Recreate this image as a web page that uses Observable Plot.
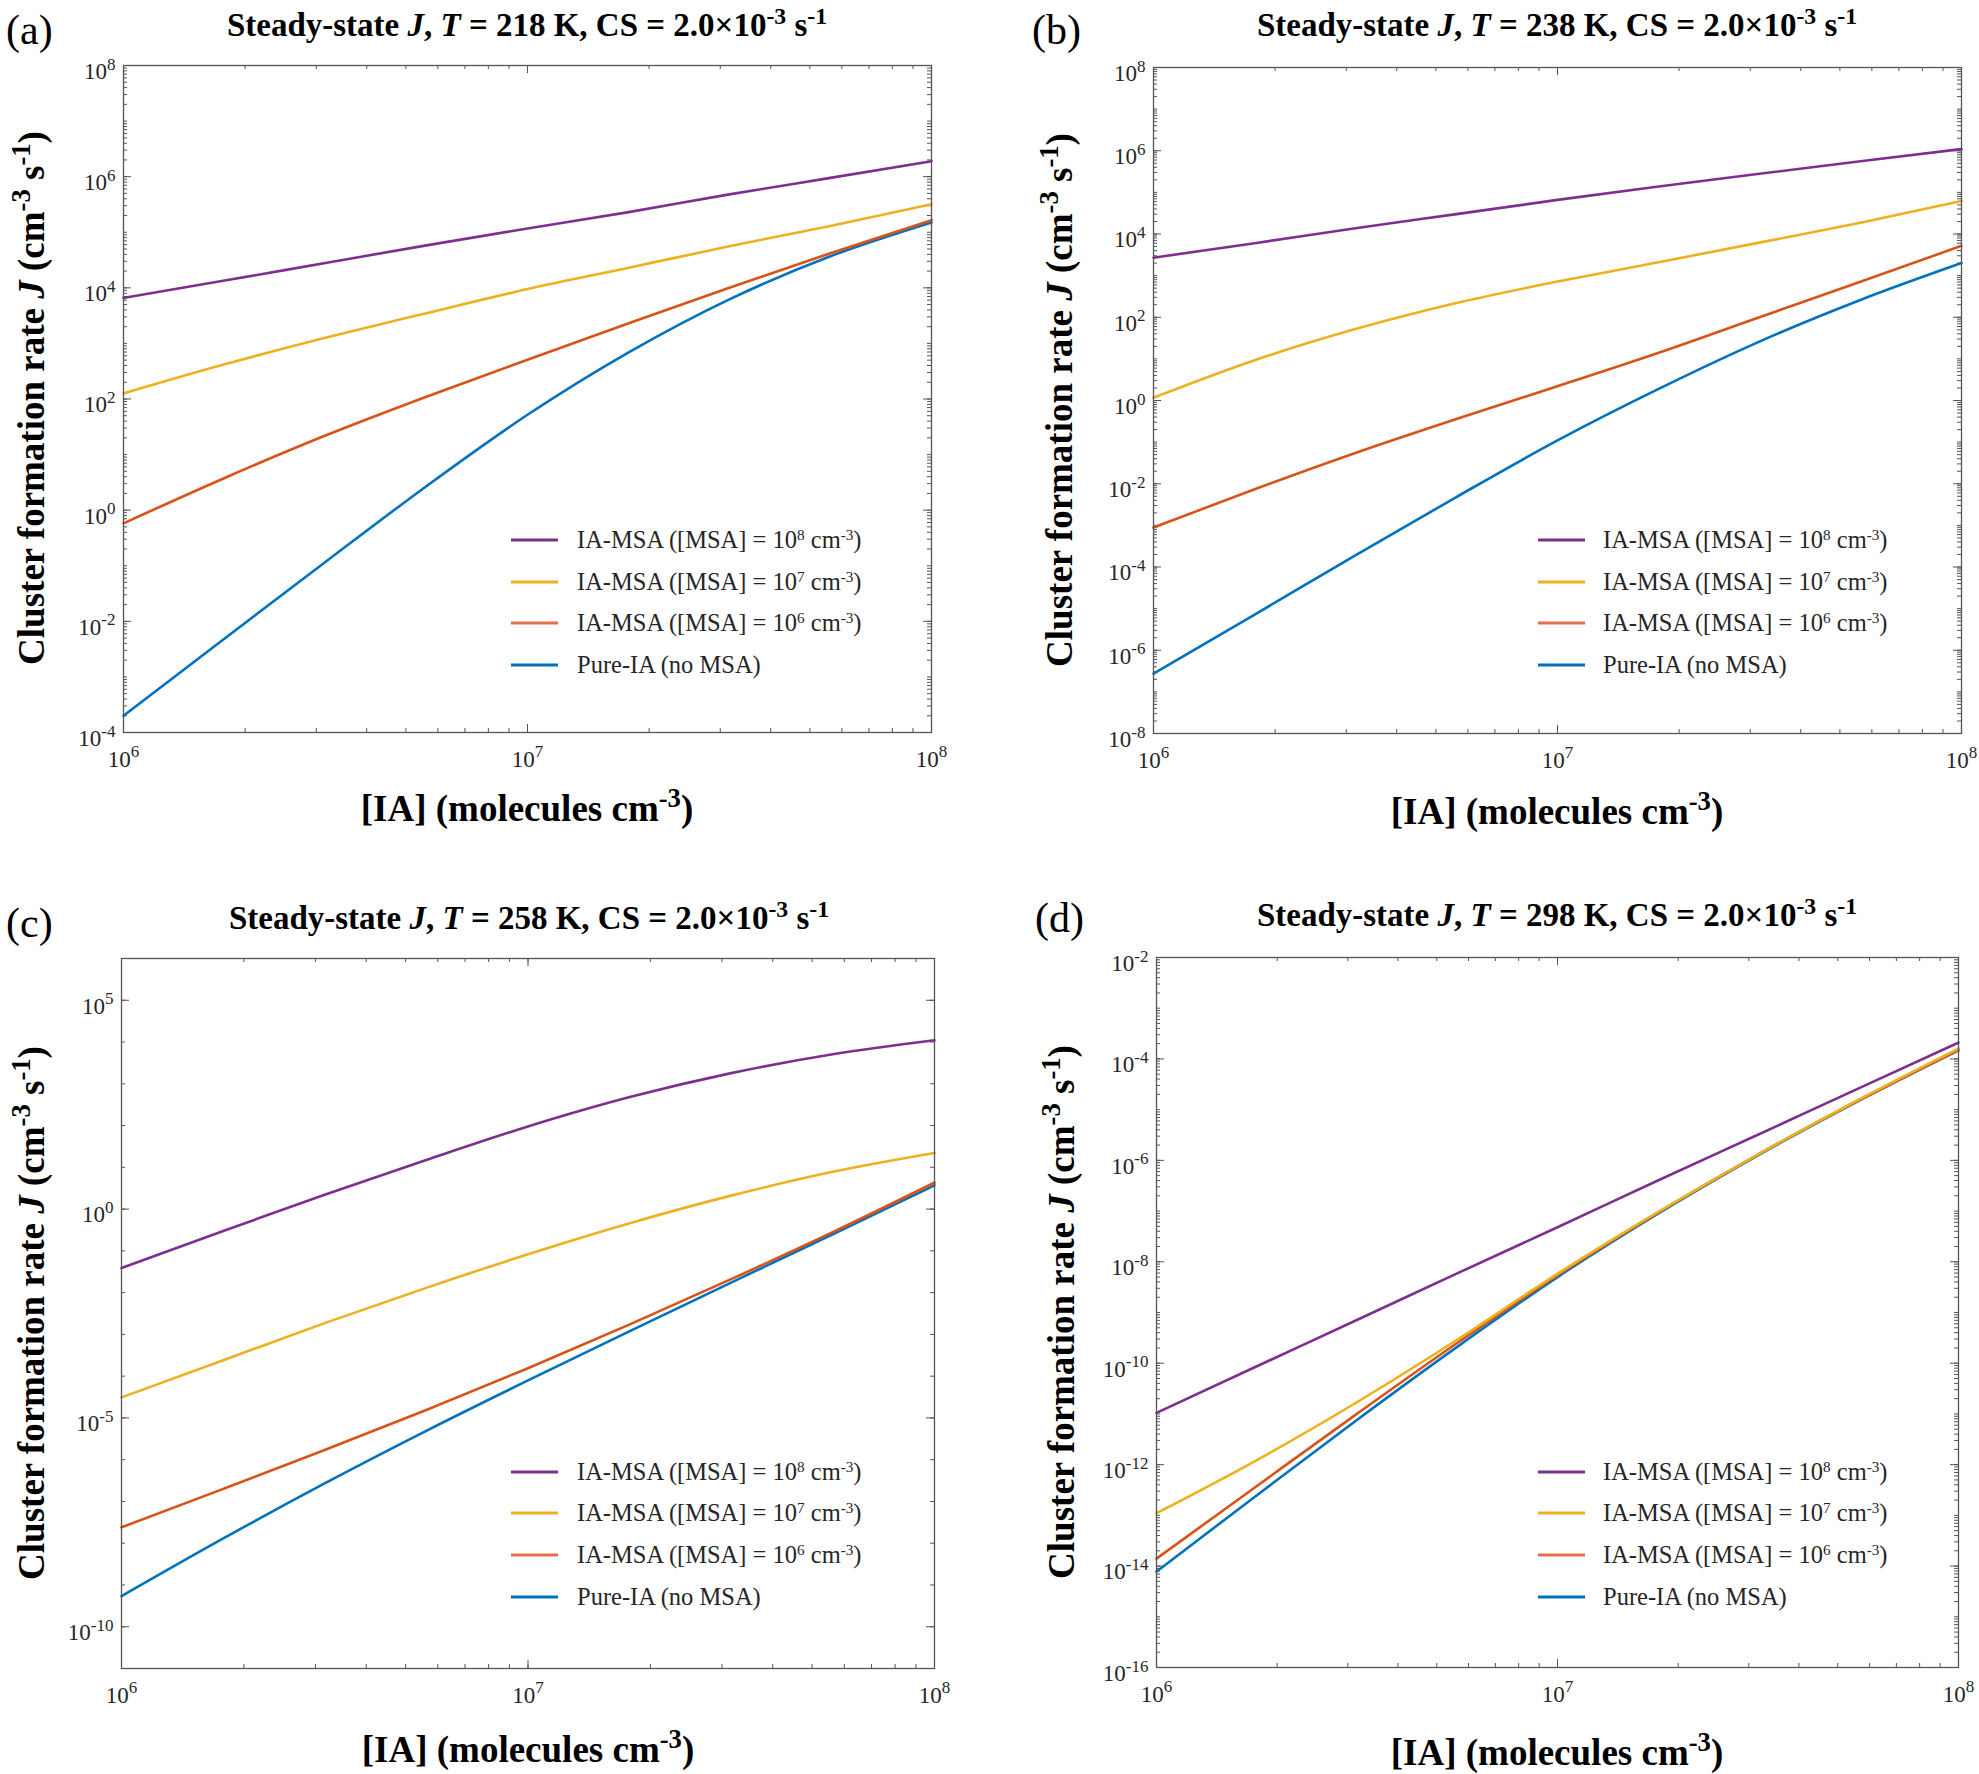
<!DOCTYPE html>
<html>
<head>
<meta charset="utf-8">
<script src="https://cdn.jsdelivr.net/npm/d3@7"></script>
<script src="https://cdn.jsdelivr.net/npm/@observablehq/plot@0.6"></script>
<style>
  body { margin: 0; background: #fff; }
  #fig { position: relative; width: 1979px; height: 1774px; font-family: "Liberation Serif", "Times New Roman", serif; color: #000; }
  .abs { position: absolute; white-space: nowrap; line-height: 1; }
  .title { font-weight: bold; font-size: 33px; transform: translate(-50%, -50%); }
  .tag { font-size: 42px; transform: translate(0, -50%); }
  .ylab { font-weight: bold; font-size: 37px; transform: translate(-50%, -50%) rotate(-90deg); }
  .xlab { font-weight: bold; font-size: 37px; transform: translate(-50%, -50%); }
  .leg { font-size: 24.5px; transform: translate(0, -50%); color: #262626; }
  sup { font-size: 0.72em; vertical-align: 0.5em; line-height: 0; }
  .leg sup { font-size: 0.62em; }
  .plotbox { position: absolute; }
</style>
</head>
<body>
<div id="fig"></div>
<script>
// IA concentration (molecules cm^-3)
const ia = [1e6, 1.78e6, 3.16e6, 5.62e6, 1e7, 1.78e7, 3.16e7, 5.62e7, 1e8];

const seriesKeys = ["msa8", "msa7", "msa6", "pure"];
const seriesColors = ["#7E2F8E", "#EDB120", "#D95319", "#0072BD"];
const legendColors = ["#7E2F8E", "#EDB120", "#E5714A", "#0072BD"];
const seriesLegend = [
  "IA-MSA ([MSA] = 10<sup>8</sup> cm<sup>-3</sup>)",
  "IA-MSA ([MSA] = 10<sup>7</sup> cm<sup>-3</sup>)",
  "IA-MSA ([MSA] = 10<sup>6</sup> cm<sup>-3</sup>)",
  "Pure-IA (no MSA)"
];

// (a) T = 218 K
const a_msa8 = [6.6e3, 1.35e4, 2.8e4, 5.8e4, 1.17e5, 2.3e5, 4.8e5, 9.5e5, 1.9e6];
const a_msa7 = [1.26e2, 4.2e2, 1.26e3, 3.5e3, 9.5e3, 2.3e4, 5.6e4, 1.3e5, 3.2e5];
const a_msa6 = [0.58, 3.8, 22, 1.1e2, 5.1e2, 2.3e3, 1.0e4, 4.2e4, 1.65e5];
const a_pure = [2.0e-4, 4.9e-3, 0.117, 2.7, 52, 6.9e2, 6.2e3, 3.7e4, 1.5e5];

// (b) T = 238 K
const b_msa8 = [2.7e3, 6.0e3, 1.38e4, 3.0e4, 6.6e4, 1.38e5, 2.8e5, 5.6e5, 1.1e6];
const b_msa7 = [1.17, 9.3, 52, 2.2e2, 7.2e2, 2.1e3, 6.2e3, 1.86e4, 6.2e4];
const b_msa6 = [8.9e-4, 7.4e-3, 5.5e-2, 0.36, 2.2, 14, 1.0e2, 7.1e2, 5.2e3];
const b_pure = [2.75e-7, 7.2e-6, 1.9e-4, 4.8e-3, 0.11, 1.9, 26, 2.6e2, 2.0e3];

// (c) T = 258 K
const c_msa8 = [3.9e-2, 0.3, 2.2, 15, 95, 4.8e2, 1.8e3, 5.1e3, 1.1e4];
const c_msa7 = [3.1e-5, 2.4e-4, 1.86e-3, 1.3e-2, 8.3e-2, 0.46, 2.1, 7.8, 22];
const c_msa6 = [2.4e-8, 2.0e-7, 1.7e-6, 1.55e-5, 1.55e-4, 1.74e-3, 2.1e-2, 0.28, 4.3];
const c_pure = [5.4e-10, 1.3e-8, 2.7e-7, 4.9e-6, 7.9e-5, 1.2e-3, 1.74e-2, 0.25, 3.7];

// (d) T = 298 K
const d_msa8 = [1.05e-11, 8.7e-11, 7.1e-10, 5.9e-9, 4.8e-8, 4.0e-7, 3.2e-6, 2.6e-5, 2.1e-4];
const d_msa7 = [1.1e-13, 1.23e-12, 1.7e-11, 2.9e-10, 5.8e-9, 9.5e-8, 1.3e-6, 1.55e-5, 1.6e-4];
const d_msa6 = [1.4e-14, 3.8e-13, 1.0e-11, 2.5e-10, 5.4e-9, 9.3e-8, 1.3e-6, 1.5e-5, 1.5e-4];
const d_pure = [7.8e-15, 2.5e-13, 7.6e-12, 2.1e-10, 5.0e-9, 8.9e-8, 1.26e-6, 1.48e-5, 1.48e-4];

const xTicks = [1e6, 1e7, 1e8];
const a_yTicks = [1e-4, 1e-2, 1e0, 1e2, 1e4, 1e6, 1e8];
const b_yTicks = [1e-8, 1e-6, 1e-4, 1e-2, 1e0, 1e2, 1e4, 1e6, 1e8];
const c_yTicks = [1e-10, 1e-5, 1e0, 1e5];
const d_yTicks = [1e-16, 1e-14, 1e-12, 1e-10, 1e-8, 1e-6, 1e-4, 1e-2];

const temps = [218, 238, 258, 298];
const tags = ["(a)", "(b)", "(c)", "(d)"];

// layout (pixel frame of each axes box)
const panels = [
  {values: [a_msa8, a_msa7, a_msa6, a_pure], yDomain: [1e-4, 1e8], yTicks: a_yTicks, subMinor: true,
   frame: [123, 65, 931, 732], title: [527, 25], tag: [6, 30], ylab: [31, 398], xlab: [527, 808],
   leg: {x1: 511, x2: 558, tx: 577, y: [540, 582, 623, 665]}},
  {values: [b_msa8, b_msa7, b_msa6, b_pure], yDomain: [1e-8, 1e8], yTicks: b_yTicks, subMinor: true,
   frame: [1153, 67, 1961, 733], title: [1557, 25], tag: [1032, 30], ylab: [1059, 400], xlab: [1557, 811],
   leg: {x1: 1538, x2: 1585, tx: 1603, y: [540, 582, 623, 665]}},
  {values: [c_msa8, c_msa7, c_msa6, c_pure], yDomain: [1e-11, 1e6], yTicks: c_yTicks, subMinor: false,
   frame: [121, 958, 934, 1668], title: [529, 918], tag: [6, 923], ylab: [31, 1313], xlab: [528, 1749],
   leg: {x1: 511, x2: 558, tx: 577, y: [1472, 1513, 1555, 1597]}},
  {values: [d_msa8, d_msa7, d_msa6, d_pure], yDomain: [1e-16, 1e-2], yTicks: d_yTicks, subMinor: true,
   frame: [1156, 957, 1958, 1667], title: [1557, 915], tag: [1035, 918], ylab: [1061, 1312], xlab: [1557, 1752],
   leg: {x1: 1538, x2: 1585, tx: 1603, y: [1472, 1513, 1555, 1597]}}
];

const fig = document.getElementById("fig");

function addText(cls, pos, html) {
  const el = document.createElement("div");
  el.className = "abs " + cls;
  el.style.left = pos[0] + "px";
  el.style.top = pos[1] + "px";
  el.innerHTML = html;
  fig.appendChild(el);
  return el;
}

function minorTicks(lo, hi, sub) {
  const out = [];
  for (let e = Math.round(Math.log10(lo)); e < Math.round(Math.log10(hi)); e++) {
    if (sub) for (let k = 1; k <= 9; k++) out.push(k * 10 ** e);
    else out.push(10 ** e);
  }
  return out;
}

const pow = d => "10^" + Math.round(Math.log10(d));

panels.forEach((p, i) => {
  const [fx0, fy0, fx1, fy1] = p.frame;
  const W = fx1 - fx0, H = fy1 - fy0;
  const m = {l: 110, r: 20, t: 20, b: 60};

  const rows = [];
  for (let s = seriesKeys.length - 1; s >= 0; s--) {
    p.values[s].forEach((J, j) => rows.push({ia: ia[j], J, series: seriesKeys[s]}));
  }
  const xMinor = minorTicks(1e6, 1e8, true);
  const yMinor = minorTicks(p.yDomain[0], p.yDomain[1], p.subMinor);
  const tk = "#555";

  const chart = Plot.plot({
    width: W + m.l + m.r,
    height: H + m.t + m.b,
    marginLeft: m.l, marginRight: m.r, marginTop: m.t, marginBottom: m.b,
    style: {fontFamily: "Liberation Serif, Times New Roman, serif", fontSize: "22px", color: "#262626", background: "transparent", overflow: "visible", maxWidth: "none"},
    x: {type: "log", domain: [1e6, 1e8]},
    y: {type: "log", domain: p.yDomain},
    color: {domain: seriesKeys, range: seriesColors},
    marks: [
      Plot.tickX(xMinor, {x: d => d, insetTop: H - 4, stroke: tk}),
      Plot.tickX(xMinor, {x: d => d, insetBottom: H - 4, stroke: tk}),
      Plot.tickX(xTicks, {x: d => d, insetTop: H - 8, stroke: tk}),
      Plot.tickX(xTicks, {x: d => d, insetBottom: H - 8, stroke: tk}),
      Plot.tickY(yMinor, {y: d => d, insetRight: W - 4, stroke: tk}),
      Plot.tickY(yMinor, {y: d => d, insetLeft: W - 4, stroke: tk}),
      Plot.tickY(p.yTicks, {y: d => d, insetRight: W - 8, stroke: tk}),
      Plot.tickY(p.yTicks, {y: d => d, insetLeft: W - 8, stroke: tk}),
      Plot.axisX(xTicks, {anchor: "bottom", tickSize: 0, tickPadding: 18, tickFormat: pow, label: null}),
      Plot.axisY(p.yTicks, {anchor: "left", tickSize: 0, tickPadding: 8, dy: 6, tickFormat: pow, label: null}),
      Plot.line(rows, {x: "ia", y: "J", z: "series", stroke: "series", strokeWidth: 2.6, curve: "monotone-x"}),
      Plot.frame({stroke: "#555", strokeWidth: 1.3})
    ]
  });

  // render "10^n" as 10 with raised exponent
  d3.select(chart).selectAll("text")
    .filter(function () { return this.textContent.includes("^"); })
    .each(function () {
      const t = d3.select(this);
      const [base, ex] = t.text().split("^");
      t.style("font-size", "23px").style("font-family", "Liberation Serif, serif");
      t.text(null);
      t.append("tspan").text(base);
      t.append("tspan").attr("dy", "-0.55em").style("font-size", "17px").text(ex);
    });

  const box = document.createElement("div");
  box.className = "plotbox";
  box.style.left = (fx0 - m.l) + "px";
  box.style.top = (fy0 - m.t) + "px";
  box.appendChild(chart);
  fig.appendChild(box);

  addText("title", p.title, `Steady-state <i>J</i>, <i>T</i> = ${temps[i]} K, CS = 2.0×10<sup>-3</sup> s<sup>-1</sup>`);
  addText("tag", p.tag, tags[i]);
  addText("ylab", p.ylab, "Cluster formation rate <i>J</i> (cm<sup>-3</sup> s<sup>-1</sup>)");
  addText("xlab", p.xlab, "[IA] (molecules cm<sup>-3</sup>)");

  // legend
  seriesKeys.forEach((k, s) => {
    const y = p.leg.y[s];
    const sw = document.createElementNS("http://www.w3.org/2000/svg", "svg");
    sw.setAttribute("width", p.leg.x2 - p.leg.x1);
    sw.setAttribute("height", 6);
    sw.style.position = "absolute";
    sw.style.left = p.leg.x1 + "px";
    sw.style.top = (y - 3) + "px";
    sw.innerHTML = `<line x1="0" x2="${p.leg.x2 - p.leg.x1}" y1="3" y2="3" stroke="${legendColors[s]}" stroke-width="2.8"/>`;
    fig.appendChild(sw);
    addText("leg", [p.leg.tx, y], seriesLegend[s]);
  });
});
</script>
</body>
</html>
